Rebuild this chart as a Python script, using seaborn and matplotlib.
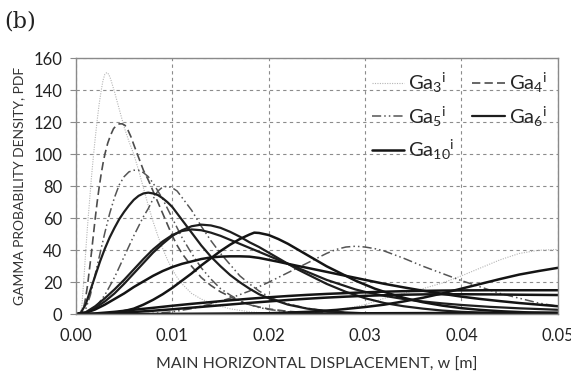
import matplotlib
matplotlib.use("Agg")
import matplotlib.pyplot as plt
import numpy as np
import pandas as pd
import seaborn as sns

# ---------------------------------------------------------------------------
# Curve values (w [m], PDF)
# ---------------------------------------------------------------------------
ga3_a_w = [0.0, 0.0004, 0.0006, 0.0008, 0.001, 0.0012, 0.0014, 0.0016, 0.0018, 0.002, 0.0022, 0.0024,
           0.0026, 0.0028, 0.003, 0.0032, 0.0034, 0.0036, 0.0038, 0.004, 0.0045, 0.005, 0.0055, 0.006,
           0.0065, 0.007, 0.0075, 0.008, 0.0085, 0.009, 0.0095, 0.010, 0.0105, 0.011, 0.012, 0.013,
           0.014, 0.015, 0.016, 0.018, 0.020, 0.025, 0.050]
ga3_a_p = [0, 0, 4, 20, 38, 55, 70, 85, 98, 110, 121, 131, 139, 146, 150, 151, 150, 147, 143, 139,
           128, 117, 108, 100, 90, 79, 68, 58, 49, 41, 34, 28, 23, 19, 13, 9.5, 7, 5, 3.4, 1.5, 0.7,
           0.1, 0]

ga3_b_w = [0.0, 0.015, 0.020, 0.024, 0.026, 0.028, 0.030, 0.032, 0.034, 0.036, 0.038, 0.040, 0.042,
           0.044, 0.046, 0.048, 0.050]
ga3_b_p = [0, 0, 0.3, 1, 2, 3.5, 6, 10, 13, 16, 19.5, 24, 29, 34, 38, 40, 40.5]

ga4_a_w = [0.0, 0.0006, 0.0008, 0.001, 0.0012, 0.0014, 0.0016, 0.0018, 0.002, 0.0022, 0.0024, 0.0026,
           0.0028, 0.003, 0.0033, 0.0036, 0.0039, 0.0042, 0.0045, 0.0048, 0.0051, 0.0054, 0.0057,
           0.006, 0.0065, 0.007, 0.0075, 0.008, 0.0085, 0.009, 0.0095, 0.010, 0.0105, 0.011, 0.0115,
           0.012, 0.013, 0.014, 0.015, 0.016, 0.017, 0.018, 0.019, 0.020, 0.022, 0.024, 0.027, 0.030,
           0.050]
ga4_a_p = [0, 1, 4, 10, 18, 28, 38, 49, 60, 70, 79, 87, 94, 100, 107, 112, 116, 118, 119, 119, 118,
           115, 111, 106, 98, 90, 84, 77, 70, 63, 56, 49, 43, 38, 34, 30, 23, 18, 14, 11, 8, 6, 4.5,
           3.3, 1.8, 1, 0.4, 0.1, 0]

ga5_a_w = [0.0, 0.0008, 0.001, 0.0015, 0.002, 0.0025, 0.003, 0.0035, 0.004, 0.0045, 0.005, 0.0055,
           0.006, 0.0065, 0.007, 0.0075, 0.008, 0.0085, 0.009, 0.0095, 0.010, 0.0105, 0.011, 0.0115,
           0.012, 0.013, 0.014, 0.015, 0.016, 0.017, 0.018, 0.019, 0.020, 0.022, 0.025, 0.030, 0.050]
ga5_a_p = [0, 1, 3, 12, 25, 38, 51, 63, 73, 81, 86, 89, 90, 90, 88.5, 86, 82, 77, 72, 66, 60, 54, 48,
           43, 38, 29, 22, 16, 12, 8.5, 6, 4.2, 3, 1.5, 0.5, 0.1, 0]

ga5_b_w = [0.0, 0.001, 0.002, 0.003, 0.004, 0.005, 0.006, 0.007, 0.0075, 0.008, 0.0085, 0.009, 0.0095,
           0.010, 0.0105, 0.011, 0.0115, 0.012, 0.0125, 0.013, 0.014, 0.015, 0.016, 0.017, 0.018,
           0.019, 0.020, 0.021, 0.022, 0.024, 0.026, 0.028, 0.030, 0.035, 0.050]
ga5_b_p = [0, 0.5, 4, 12, 23, 36, 49, 61, 66, 72, 77, 79.5, 80, 79, 77, 73, 69, 65, 60, 55, 46, 38,
           31, 24, 19, 14.5, 11, 8.5, 6.5, 3.7, 2, 1, 0.5, 0.1, 0]

ga5_c_w = [0.0, 0.006, 0.008, 0.010, 0.012, 0.014, 0.016, 0.018, 0.020, 0.022, 0.024, 0.026, 0.027,
           0.028, 0.029, 0.030, 0.031, 0.032, 0.034, 0.036, 0.038, 0.040, 0.042, 0.044, 0.046, 0.048,
           0.050]
ga5_c_p = [0, 0, 0.5, 1.5, 3.5, 6.5, 10, 14.5, 20, 26, 32, 38, 40.5, 42, 42.5, 42, 41, 39.5, 35, 30,
           25.5, 21, 17, 13, 10, 7, 5]

ga6_a_w = [0.0, 0.0005, 0.001, 0.0015, 0.002, 0.0025, 0.003, 0.0035, 0.004, 0.0045, 0.005, 0.0055,
           0.006, 0.0065, 0.007, 0.0075, 0.008, 0.0085, 0.009, 0.0095, 0.010, 0.0105, 0.011, 0.0115,
           0.012, 0.013, 0.014, 0.015, 0.016, 0.017, 0.018, 0.019, 0.020, 0.022, 0.024, 0.026, 0.028,
           0.030, 0.035, 0.050]
ga6_a_p = [0, 1, 6, 15, 24, 33, 41, 48, 54, 59.5, 64, 68, 71.5, 74, 75.5, 76, 75.5, 74.5, 72.5, 70,
           67, 63, 59, 55, 51, 43, 36, 30, 24.5, 20, 16, 12.5, 10, 6, 3.5, 2, 1.1, 0.6, 0.1, 0]

ga6_b_w = [0.0, 0.001, 0.002, 0.003, 0.004, 0.005, 0.006, 0.007, 0.008, 0.009, 0.010, 0.011, 0.012,
           0.013, 0.014, 0.015, 0.016, 0.017, 0.018, 0.019, 0.020, 0.021, 0.022, 0.023, 0.024, 0.025,
           0.026, 0.027, 0.028, 0.029, 0.030, 0.032, 0.034, 0.036, 0.038, 0.040, 0.043, 0.046, 0.050]
ga6_b_p = [0, 1, 4, 8, 13, 19, 25.5, 32, 38.5, 44, 49, 52.5, 55, 56, 55.5, 54, 51.5, 48.5, 45, 42,
           38.5, 35, 31.5, 28, 25, 22, 19, 16.5, 14, 12, 10, 7, 5, 3.5, 2.3, 1.5, 0.8, 0.4, 0.2]

ga6_c_w = [0.0, 0.001, 0.002, 0.003, 0.004, 0.005, 0.006, 0.007, 0.008, 0.009, 0.010, 0.011, 0.012,
           0.013, 0.014, 0.015, 0.016, 0.017, 0.018, 0.019, 0.020, 0.021, 0.022, 0.023, 0.024, 0.025,
           0.026, 0.027, 0.028, 0.029, 0.030, 0.032, 0.034, 0.036, 0.038, 0.040, 0.043, 0.046, 0.050]
ga6_c_p = [0, 1.2, 5, 10, 15.5, 21.5, 28, 34.5, 40.5, 45.5, 49.5, 52, 53, 52.5, 51, 49, 46.5, 44,
           41.5, 39, 36.5, 34, 31.5, 29, 26.5, 24, 21.5, 19.5, 17.5, 15.5, 14, 11.5, 9.5, 8, 6.8, 5.8,
           4.6, 3.7, 2.8]

ga10_a_w = [0.0, 0.003, 0.004, 0.005, 0.006, 0.007, 0.008, 0.009, 0.010, 0.011, 0.012, 0.013, 0.014,
            0.015, 0.016, 0.017, 0.018, 0.0185, 0.019, 0.020, 0.021, 0.022, 0.023, 0.024, 0.025,
            0.026, 0.027, 0.028, 0.029, 0.030, 0.031, 0.032, 0.033, 0.034, 0.035, 0.036, 0.038,
            0.040, 0.042, 0.044, 0.047, 0.050]
ga10_a_p = [0, 0, 0.8, 2, 3.5, 6, 9, 12.5, 16.5, 21, 25.5, 30.5, 35, 39.5, 43.5, 47, 49.8, 51, 50.8,
            49.5, 47, 44, 40.5, 37, 33.5, 30, 27, 24, 21, 18.5, 16, 14, 12, 10.3, 8.8, 7.5, 5.4, 3.8,
            2.7, 1.9, 1.1, 0.6]

ga10_b_w = [0.0, 0.001, 0.002, 0.003, 0.004, 0.005, 0.006, 0.007, 0.008, 0.009, 0.010, 0.011, 0.012,
            0.013, 0.014, 0.015, 0.016, 0.017, 0.018, 0.019, 0.020, 0.021, 0.022, 0.023, 0.024,
            0.026, 0.028, 0.030, 0.032, 0.034, 0.036, 0.038, 0.040, 0.042, 0.044, 0.046, 0.048,
            0.050]
ga10_b_p = [0, 0.8, 3, 6, 9.5, 13, 17, 20.5, 24, 27, 29.5, 31.5, 33, 34.5, 35.5, 36, 36.2, 36.2, 36,
            35.2, 34, 32.8, 31.5, 30.2, 29, 26.5, 24, 21.5, 19, 16.8, 14.7, 12.8, 11, 9.5, 8.2, 7, 6,
            5]

ga10_c_w = [0.0, 0.010, 0.015, 0.020, 0.024, 0.027, 0.030, 0.032, 0.034, 0.036, 0.038, 0.040, 0.042,
            0.044, 0.046, 0.048, 0.050]
ga10_c_p = [0, 0, 0.2, 0.6, 1.5, 2.7, 4.5, 6, 8, 10.3, 13, 16, 19, 22, 24.8, 27, 29]

ga10_d_w = [0.0, 0.002, 0.004, 0.006, 0.008, 0.010, 0.012, 0.014, 0.016, 0.018, 0.020, 0.022, 0.024,
            0.026, 0.028, 0.030, 0.032, 0.034, 0.036, 0.038, 0.040, 0.043, 0.046, 0.050]
ga10_d_p = [0, 0.5, 1.5, 2.8, 4, 5.3, 6.5, 7.6, 8.7, 9.7, 10.6, 11.4, 12.1, 12.7, 13.2, 13.7, 14.1,
            14.4, 14.6, 14.8, 14.9, 15, 15, 15]

ga10_e_w = [0.0, 0.002, 0.004, 0.006, 0.008, 0.010, 0.012, 0.014, 0.016, 0.018, 0.020, 0.022, 0.024,
            0.026, 0.028, 0.030, 0.032, 0.034, 0.036, 0.038, 0.040, 0.043, 0.046, 0.050]
ga10_e_p = [0, 0.2, 0.7, 1.4, 2.2, 3.1, 4.1, 5.1, 6.1, 7.1, 8, 8.9, 9.7, 10.4, 11, 11.5, 11.9, 12.2,
            12.4, 12.5, 12.5, 12.4, 12.2, 12]

ga10_f_w = [0.0, 0.010, 0.020, 0.030, 0.040, 0.050]
ga10_f_p = [0, 0.2, 0.4, 0.6, 0.8, 1.0]

curves = [
    ("Ga3", ga3_a_w, ga3_a_p), ("Ga3", ga3_b_w, ga3_b_p),
    ("Ga4", ga4_a_w, ga4_a_p),
    ("Ga5", ga5_a_w, ga5_a_p), ("Ga5", ga5_b_w, ga5_b_p), ("Ga5", ga5_c_w, ga5_c_p),
    ("Ga6", ga6_a_w, ga6_a_p), ("Ga6", ga6_b_w, ga6_b_p), ("Ga6", ga6_c_w, ga6_c_p),
    ("Ga10", ga10_a_w, ga10_a_p), ("Ga10", ga10_b_w, ga10_b_p), ("Ga10", ga10_c_w, ga10_c_p),
    ("Ga10", ga10_d_w, ga10_d_p), ("Ga10", ga10_e_w, ga10_e_p), ("Ga10", ga10_f_w, ga10_f_p),
]

labels = {"Ga3": "Ga$_3$$^i$", "Ga4": "Ga$_4$$^i$", "Ga5": "Ga$_5$$^i$",
          "Ga6": "Ga$_6$$^i$", "Ga10": "Ga$_{10}$$^i$"}

styles = {
    "Ga3": dict(color="#b5b5b5", lw=0.8, dashes=(1, 1.2)),
    "Ga4": dict(color="#4d4d4d", lw=1.2, dashes=(5, 2.5)),
    "Ga5": dict(color="#555555", lw=1.1, dashes=(6, 2, 1, 2, 1, 2)),
    "Ga6": dict(color="#1e1e1e", lw=1.6, dashes=None),
    "Ga10": dict(color="#141414", lw=1.8, dashes=None),
}

# ---------------------------------------------------------------------------
sns.set_style("white")
plt.rcParams['font.family'] = ['Lato', 'DejaVu Sans']
plt.rcParams['mathtext.default'] = 'regular'

fig = plt.figure(figsize=(5.71, 3.71), dpi=100)
ax = fig.add_axes([0.133, 0.153, 0.844, 0.690])

seen = set()
for name, w, p in curves:
    st = styles[name]
    lab = labels[name] if name not in seen else None
    seen.add(name)
    sns.lineplot(x=w, y=p, ax=ax, color=st["color"], lw=st["lw"], sort=False,
                 label=lab, legend=False)
    if st["dashes"] is not None:
        ax.lines[-1].set_dashes(st["dashes"])

ax.set_xlim(0, 0.05)
ax.set_ylim(0, 160)
ax.set_xticks(np.arange(0, 0.0501, 0.01))
ax.set_xticklabels(["0.00", "0.01", "0.02", "0.03", "0.04", "0.05"])
ax.set_yticks(np.arange(0, 161, 20))
ax.grid(True, color="#8c8c8c", lw=0.8, ls=(0, (3, 3)))
ax.set_axisbelow(True)
for s in ax.spines.values():
    s.set_color("#8a8a8a")
    s.set_linewidth(1.0)
ax.tick_params(axis="both", labelsize=12, colors="#222222", length=4, width=0.8,
               direction="out", bottom=False, left=True, pad=6)
ax.tick_params(axis="y", color="#8a8a8a")

ax.set_ylabel("GAMMA PROBABILITY DENSITY, PDF", fontsize=10, color="#333333", labelpad=6)
ax.set_xlabel("MAIN HORIZONTAL DISPLACEMENT, w [m]", fontsize=11.5, color="#333333", labelpad=10)

# legend fills column-wise; this order gives rows Ga3 Ga4 / Ga5 Ga6 / Ga10
handles, labs = ax.get_legend_handles_labels()
order = [labels[k] for k in ["Ga3", "Ga5", "Ga10", "Ga4", "Ga6"]]
hmap = dict(zip(labs, handles))
ax.legend([hmap[k] for k in order], order, ncol=2, loc="upper right", frameon=False,
          fontsize=14.5, handlelength=1.6, handletextpad=0.2, columnspacing=0.9,
          labelspacing=0.45, bbox_to_anchor=(1.015, 1.02))

fig.text(0.008, 0.925, "(b)", fontsize=16, family="DejaVu Serif", color="#222222")

fig.savefig("out.png", dpi=100, facecolor="white")
